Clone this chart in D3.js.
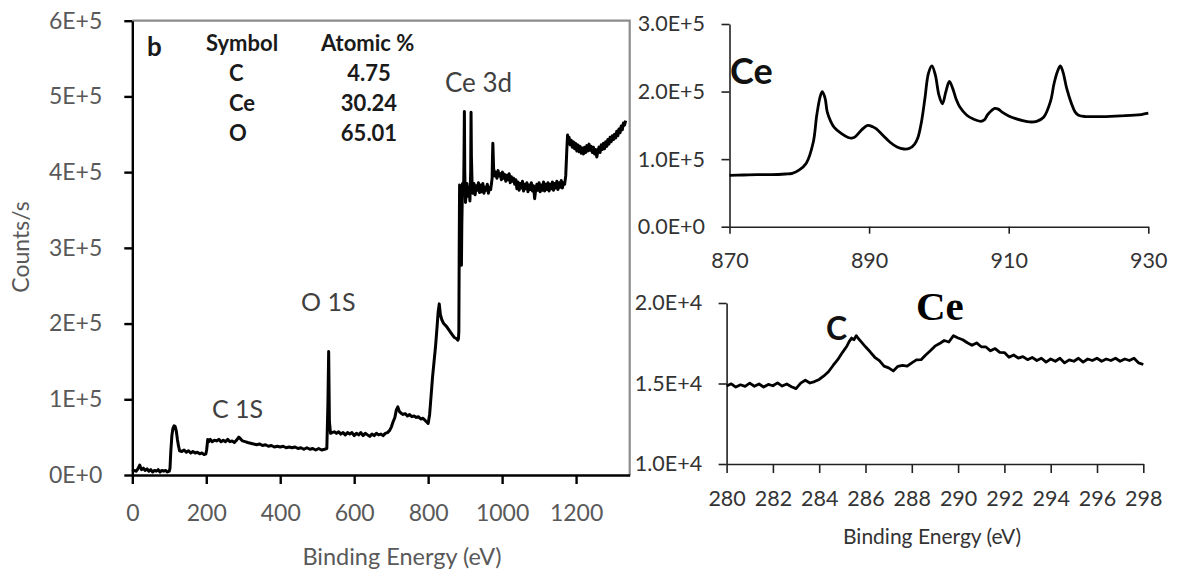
<!DOCTYPE html>
<html>
<head>
<meta charset="utf-8">
<script src="https://cdn.jsdelivr.net/npm/d3@7"></script>
<style>
  html, body { margin: 0; padding: 0; background: #fff; }
  svg { display: block; font-family: Lato, "Open Sans", sans-serif; }
</style>
</head>
<body>
<svg id="chart" width="1177" height="581"></svg>
<script>
// ---------------- DATA ----------------
// Survey spectrum (left): binding energy (eV) and counts in thousands (k counts/s)
const surveyEnergy = [0,5,10,15,20,25,30,35,40,45,50,55,60,65,70,75,80,85,90,95,100,102,104,107,110,113,116,119,122,125,128,134,140,146,152,158,164,170,176,182,188,194,199,201,204,207,211,216,222,228,234,240,246,252,258,264,270,276,282,288,292,298,305,312,320,328,336,344,352,360,368,376,384,392,400,408,416,424,432,440,448,456,464,472,480,488,496,504,512,520,526,529,531,533,536,540,546,552,558,564,570,576,582,588,594,600,606,612,618,624,630,636,642,648,654,660,666,672,678,684,690,696,701,705,710,714,718,722,726,732,738,744,750,756,762,768,774,780,786,792,796,800,804,808,812,816,820,824,827,830,833,837,842,850,857,864,870,877,880,882,883,884,885,886,888,889,890,891,893,895,896,897,898,899,901,903,905,907,909,911,913,915,916,917,919,921,924,927,930,933,936,939,942,945,948,951,954,957,960,963,966,969,971,973,974,975,977,980,983,986,989,992,995,998,1001,1004,1007,1010,1013,1016,1019,1022,1025,1028,1031,1034,1037,1040,1043,1046,1049,1052,1055,1058,1061,1064,1067,1070,1073,1076,1079,1082,1085,1088,1091,1094,1097,1100,1103,1106,1109,1112,1115,1118,1121,1124,1127,1130,1133,1136,1139,1142,1145,1148,1151,1154,1157,1160,1163,1166,1169,1172,1175,1177,1179,1181,1184,1187,1190,1193,1196,1199,1202,1205,1208,1211,1214,1217,1220,1223,1226,1229,1232,1235,1238,1241,1244,1247,1250,1253,1256,1259,1262,1265,1268,1271,1274,1277,1280,1283,1286,1289,1292,1295,1298,1301,1304,1307,1310,1313,1316,1319,1322,1325,1328,1331,1334,1337,1340,1343];
const surveyCounts = [4,6,5,8,13,7,9,6,8,5,7,4,6,5,7,4,6,5,6,4,5,9,30,52,62,65,64,58,47,38,32,31,33,30,32,29,31,29,30,28,29,27,28,33,47,44,47,44,46,45,47,44,46,44,47,44,45,43,46,50,48,45,44,43,42,41,40,41,39,40,38,39,37,38,37,38,36,37,36,37,35,36,34,36,34,35,33,35,33,34,35,95,163,70,55,56,57,55,57,54,56,53,56,54,56,52,55,53,56,52,55,53,51,54,52,55,53,54,52,55,56,59,64,70,76,86,90,84,82,80,81,78,80,77,78,76,77,74,75,72,70,68,80,105,130,150,170,195,215,226,212,205,200,196,191,186,182,180,178,180,190,300,383,330,370,350,277,330,385,370,380,420,480,400,360,372,385,368,380,375,362,400,479,420,380,372,385,370,382,376,386,373,383,374,385,372,380,376,384,372,380,377,384,392,420,438,405,395,400,392,402,395,398,390,400,392,397,388,396,390,398,386,394,388,392,384,390,378,387,376,385,379,388,375,384,378,386,374,383,377,386,375,382,365,378,384,376,386,374,383,376,387,375,384,377,386,375,384,378,387,376,385,379,388,377,386,380,389,379,386,384,395,430,449,440,446,436,442,433,440,431,438,428,436,427,434,425,432,424,433,426,435,428,437,429,434,426,433,424,430,420,428,433,426,436,430,438,431,440,434,443,437,446,440,448,443,450,445,454,448,457,452,461,456,465,462,468];

// Ce 3d high-resolution spectrum (top right): eV and k counts/s
const ceEnergy = [870,872,874,876,878,879,880,881,882,882.5,883,883.3,883.7,884,884.5,885,886,887,887.5,888,889,889.8,890.5,891,892,893,894,895,895.8,896.5,897,897.5,898,898.5,899,899.5,900,900.5,901,901.5,902,902.5,903,904,905,906,906.5,907,908,908.5,909,910,911,912,913,914,915,916,916.5,917,917.4,917.8,918.3,919,919.5,920,921,922,924,926,928,929,930];
const ceCounts = [76,76.5,77,77,78,79,84,94,125,165,193,200,190,170,156,147,138,132,131,133,144,150,148,145,135,125,118,115,116,122,132,155,190,227,238,224,195,182,200,215,204,188,177,165,159,156,158,166,175,174,170,164,160,157,155,156,162,186,212,230,238,228,205,182,170,165,163,163,163,164,165,166,168];

// C 1s high-resolution spectrum (bottom right): eV and k counts/s
const cEnergy = [280,280.2,280.4,280.6,280.8,281,281.2,281.4,281.6,281.8,282,282.2,282.4,282.6,282.8,283,283.2,283.4,283.6,283.8,284,284.2,284.4,284.6,284.8,285,285.2,285.3,285.4,285.5,285.6,285.7,285.8,286,286.2,286.4,286.6,286.8,287,287.2,287.4,287.6,287.8,288,288.2,288.4,288.6,288.8,289,289.2,289.4,289.6,289.8,290,290.2,290.4,290.6,290.8,291,291.2,291.4,291.6,291.8,292,292.2,292.4,292.6,292.8,293,293.2,293.4,293.6,293.8,294,294.2,294.4,294.6,294.8,295,295.2,295.4,295.6,295.8,296,296.2,296.4,296.6,296.8,297,297.2,297.4,297.6,297.8,298];
const cCounts = [14.85,14.98,14.78,14.92,14.82,15.02,14.83,14.97,14.78,14.94,14.86,15.04,14.84,14.97,14.8,14.68,15.02,15.2,15.03,15.12,15.25,15.47,15.73,16.12,16.48,16.92,17.33,17.62,17.82,17.72,17.97,17.78,17.62,17.28,16.97,16.63,16.42,16.08,15.97,15.78,16.07,16.13,16.08,16.28,16.47,16.48,16.77,17.03,17.32,17.48,17.67,17.58,17.97,17.83,17.72,17.53,17.37,17.52,17.28,17.27,17.03,17.17,16.93,16.92,16.63,16.77,16.58,16.67,16.48,16.62,16.43,16.57,16.33,16.52,16.38,16.57,16.28,16.47,16.38,16.57,16.33,16.52,16.43,16.57,16.38,16.52,16.43,16.57,16.38,16.52,16.43,16.57,16.28,16.18];

// Tick values and labels
const surveyXTicks = [0,200,400,600,800,1000,1200];
const surveyYTicks = [0,100,200,300,400,500,600];
const surveyYLabels = ["0E+0","1E+5","2E+5","3E+5","4E+5","5E+5","6E+5"];
const ceXTicks = [870,890,910,930];
const ceYTicks = [0,100,200,300];
const ceYLabels = ["0.0E+0","1.0E+5","2.0E+5","3.0E+5"];
const cXTicks = [280,282,284,286,288,290,292,294,296,298];
const cYTicks = [10,15,20];
const cYLabels = ["1.0E+4","1.5E+4","2.0E+4"];

// Inset table
const tableSymbols = ["C","Ce","O"];
const tableAtomic = ["4.75","30.24","65.01"];

// ---------------- DRAW ----------------
const svg = d3.select("#chart");
svg.append("rect").attr("width",1177).attr("height",581).attr("fill","#fff");

function styleAxis(g, color, width, labelColor, fontSize) {
  g.select(".domain").attr("stroke", color).attr("stroke-width", width);
  g.selectAll(".tick line").attr("stroke", color).attr("stroke-width", width);
  g.selectAll(".tick text").attr("fill", labelColor).attr("font-size", fontSize)
    .attr("font-family", "Lato, 'Open Sans', sans-serif");
}

// ===== Left survey chart =====
const sx = d3.scaleLinear().domain([0,1345]).range([132.3,629.7]);
const sy = d3.scaleLinear().domain([0,600]).range([475,20.7]);

// gray frame (top and right)
svg.append("path")
  .attr("d", `M${sx(0)},${sy(600)}H${sx(1345)}V${sy(0)}`)
  .attr("fill","none").attr("stroke","#8c8c8c").attr("stroke-width",2.2);

const sxAxis = svg.append("g").attr("transform",`translate(0,${sy(0)})`)
  .call(d3.axisBottom(sx).tickValues(surveyXTicks).tickFormat(d3.format("d")).tickSize(9).tickSizeOuter(0).tickPadding(21));
styleAxis(sxAxis, "#000", 2.4, "#595959", "23px");

const syAxis = svg.append("g").attr("transform",`translate(${sx(0)},0)`)
  .call(d3.axisLeft(sy).tickValues(surveyYTicks).tickFormat((d,i)=>surveyYLabels[i]).tickSize(8).tickSizeOuter(0).tickPadding(22));
styleAxis(syAxis, "#000", 2.4, "#595959", "23px");

svg.append("path")
  .datum(surveyEnergy.map((e,i)=>[e, surveyCounts[i]]))
  .attr("fill","none").attr("stroke","#000").attr("stroke-width",3)
  .attr("stroke-linejoin","round")
  .attr("d", d3.line().x(d=>sx(d[0])).y(d=>sy(d[1])));

svg.append("text").attr("x",402).attr("y",565).attr("text-anchor","middle")
  .attr("font-size","23.5px").attr("fill","#595959").text("Binding Energy (eV)");
svg.append("text").attr("transform","translate(29,247) rotate(-90)").attr("text-anchor","middle")
  .attr("font-size","23px").attr("fill","#595959").text("Counts/s");

// annotations
svg.append("text").attr("x",445).attr("y",92).attr("font-size","26px").attr("fill","#404040").text("Ce 3d");
svg.append("text").attr("x",301).attr("y",311).attr("font-size","25px").attr("fill","#404040").text("O 1S");
svg.append("text").attr("x",212).attr("y",418).attr("font-size","25px").attr("fill","#404040").text("C 1S");

// table
svg.append("text").attr("x",147).attr("y",56).attr("font-size","26px").attr("font-weight","bold").attr("fill","#1a1a1a").text("b");
svg.append("text").attr("x",206).attr("y",51).attr("font-size","22px").attr("font-weight","bold").attr("fill","#1a1a1a").text("Symbol");
svg.append("text").attr("x",321).attr("y",51).attr("font-size","22px").attr("font-weight","bold").attr("fill","#1a1a1a").text("Atomic %");
tableSymbols.forEach((s,i)=>{
  svg.append("text").attr("x",229).attr("y",81+i*30).attr("font-size","22px").attr("font-weight","bold").attr("fill","#1a1a1a").text(s);
});
tableAtomic.forEach((s,i)=>{
  svg.append("text").attr("x",369).attr("y",81+i*30).attr("text-anchor","middle").attr("font-size","22px").attr("font-weight","bold").attr("fill","#1a1a1a").text(s);
});

// ===== Top right Ce chart =====
const cex = d3.scaleLinear().domain([870,930]).range([729.5,1148.3]);
const cey = d3.scaleLinear().domain([0,300]).range([226.7,24]);

const cexAxis = svg.append("g").attr("transform",`translate(0,${cey(0)})`)
  .call(d3.axisBottom(cex).tickValues(ceXTicks).tickFormat(d3.format("d")).tickSize(7).tickSizeOuter(0).tickPadding(19));
styleAxis(cexAxis, "#222", 1.6, "#333", "21.5px");
const ceyAxis = svg.append("g").attr("transform",`translate(${cex(870)},0)`)
  .call(d3.axisLeft(cey).tickValues(ceYTicks).tickFormat((d,i)=>ceYLabels[i]).tickSize(8).tickSizeOuter(0).tickPadding(16.5));
styleAxis(ceyAxis, "#222", 1.6, "#333", "21.5px");

svg.append("path")
  .datum(ceEnergy.map((e,i)=>[e, ceCounts[i]]))
  .attr("fill","none").attr("stroke","#000").attr("stroke-width",2.8)
  .attr("stroke-linejoin","round")
  .attr("d", d3.line().curve(d3.curveCatmullRom.alpha(0.5)).x(d=>cex(d[0])).y(d=>cey(d[1])));

svg.append("text").attr("x",730).attr("y",84).attr("font-size","36px").attr("font-weight","bold").attr("fill","#111").text("Ce");

// ===== Bottom right C chart =====
const cx = d3.scaleLinear().domain([280,298]).range([726.6,1143.3]);
const cy = d3.scaleLinear().domain([10,20]).range([464,303]);

const cxAxis = svg.append("g").attr("transform",`translate(0,${cy(10)})`)
  .call(d3.axisBottom(cx).tickValues(cXTicks).tickFormat(d3.format("d")).tickSize(9).tickSizeOuter(0).tickPadding(17.5));
styleAxis(cxAxis, "#222", 1.6, "#333", "21.5px");
const cyAxis = svg.append("g").attr("transform",`translate(${cx(280)},0)`)
  .call(d3.axisLeft(cy).tickValues(cYTicks).tickFormat((d,i)=>cYLabels[i]).tickSize(8).tickSizeOuter(0).tickPadding(16.5));
styleAxis(cyAxis, "#222", 1.6, "#333", "21.5px");

svg.append("path")
  .datum(cEnergy.map((e,i)=>[e, cCounts[i]]))
  .attr("fill","none").attr("stroke","#000").attr("stroke-width",2.8)
  .attr("stroke-linejoin","round")
  .attr("d", d3.line().x(d=>cx(d[0])).y(d=>cy(d[1])));

svg.append("text").attr("x",932).attr("y",544).attr("text-anchor","middle")
  .attr("font-size","21px").attr("fill","#333").text("Binding Energy (eV)");
svg.append("text").attr("x",826).attr("y",340).attr("font-size","32px").attr("font-weight","bold").attr("fill","#111").text("C");
svg.append("text").attr("x",916).attr("y",320).attr("font-size","41px").attr("font-weight","bold")
  .attr("font-family","'Liberation Serif', 'DejaVu Serif', serif").attr("fill","#000").text("Ce");
</script>
</body>
</html>
